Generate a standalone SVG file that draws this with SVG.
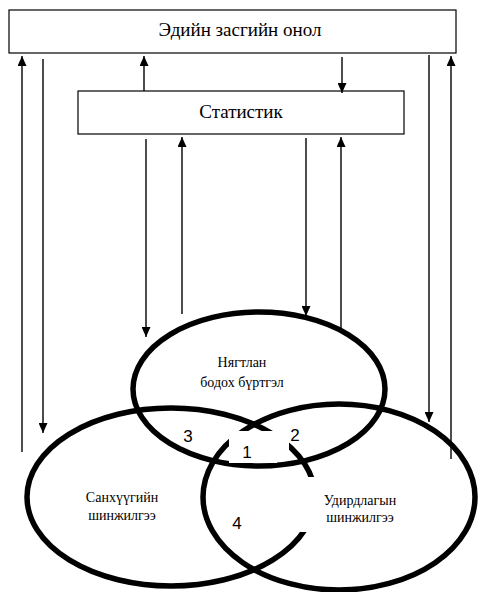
<svg xmlns="http://www.w3.org/2000/svg" width="479" height="592" viewBox="0 0 479 592">
<style>
.box{fill:#fff;stroke:#000;stroke-width:1.2}
.ell{fill:none;stroke:#000;stroke-width:5.5}
.t{fill:#000;text-anchor:middle;font-family:"Liberation Serif","Times New Roman",serif}
.n{font-size:17px;fill:#000;text-anchor:middle;font-family:"Liberation Sans",Arial,sans-serif}
.c{fill:none;stroke:#000;stroke-width:1.4}
.a{marker-end:url(#ah)}
.gap{fill:#fff;stroke:none}
</style>
<defs>
<marker id="ah" markerUnits="userSpaceOnUse" markerWidth="10" markerHeight="9" refX="10" refY="4.5" orient="auto">
<path d="M0,0 L10,4.5 L0,9 z" fill="#000"/>
</marker>
</defs>
<rect width="479" height="592" fill="#fff"/>
<g id="econ-theory">
<rect class="box" x="9" y="10" width="447" height="43"/>
<text class="t" x="240" y="36" font-size="19">Эдийн засгийн онол</text>
</g>
<g id="statistics">
<rect class="box" x="78" y="91" width="326" height="43"/>
<text class="t" x="241" y="118" font-size="19">Статистик</text>
</g>
<g id="accounting">
<ellipse class="ell" cx="259" cy="389" rx="126" ry="77"/>
</g>
<g id="financial-analysis">
<ellipse class="ell" cx="171" cy="497" rx="144" ry="89"/>
</g>
<g id="management-analysis">
<ellipse class="ell" cx="339" cy="497" rx="136" ry="93"/>
</g>
<g id="gaps">
<rect class="gap" x="229" y="431" width="48" height="32"/>
<rect class="gap" x="277" y="430" width="12" height="20"/>
<rect class="gap" x="300" y="477" width="112" height="55"/>
</g>
<g id="labels">
<text class="t" x="242" y="367" font-size="14">Нягтлан</text>
<text class="t" x="242" y="387" font-size="14">бодох бүртгэл</text>
<text class="t" x="122" y="502" font-size="14">Санхүүгийн</text>
<text class="t" x="122" y="520" font-size="14">шинжилгээ</text>
<text class="t" x="360" y="505" font-size="14">Удирдлагын</text>
<text class="t" x="360" y="522" font-size="14">шинжилгээ</text>
</g>
<g id="numbers">
<text class="n" x="247" y="458">1</text>
<text class="n" x="295" y="441">2</text>
<text class="n" x="188" y="442">3</text>
<text class="n" x="237" y="529">4</text>
</g>
<g id="connectors">
<line class="c a" x1="22" y1="452" x2="22" y2="56"/>
<line class="c a" x1="43" y1="59" x2="43" y2="433"/>
<line class="c a" x1="144" y1="91" x2="144" y2="56"/>
<line class="c a" x1="342" y1="57" x2="342" y2="93"/>
<line class="c a" x1="146" y1="139" x2="146" y2="337"/>
<line class="c a" x1="182" y1="314" x2="182" y2="137"/>
<line class="c a" x1="306" y1="138" x2="306" y2="316"/>
<line class="c a" x1="341" y1="328" x2="341" y2="137"/>
<line class="c a" x1="429" y1="55" x2="429" y2="422"/>
<line class="c a" x1="451" y1="459" x2="451" y2="56"/>
</g>
</svg>
